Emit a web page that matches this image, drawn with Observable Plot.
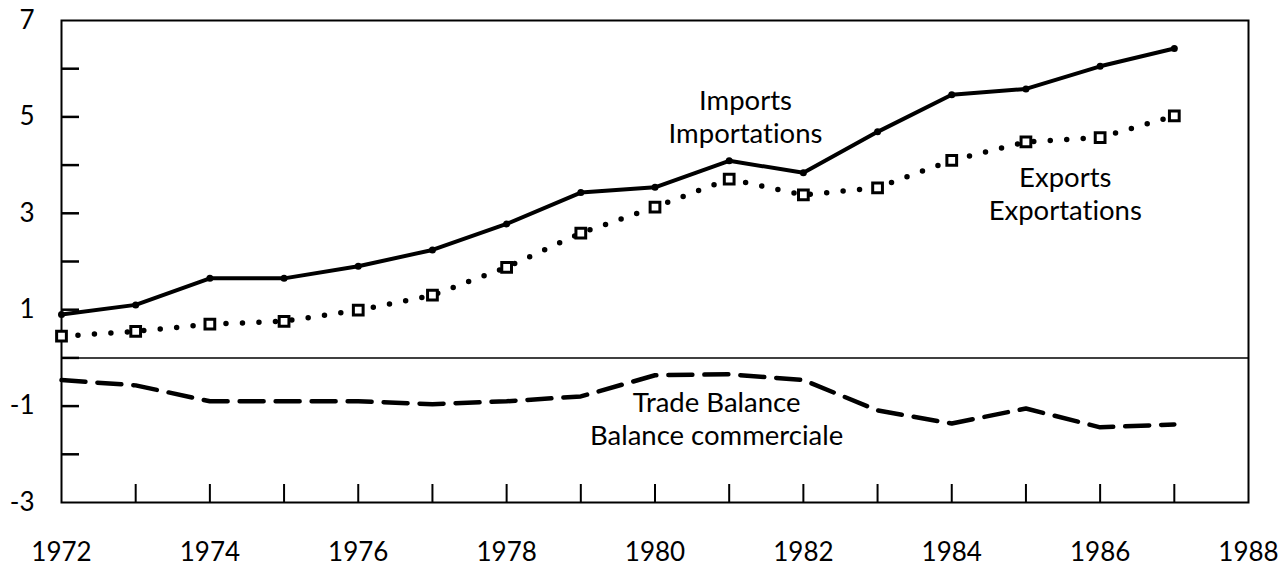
<!DOCTYPE html>
<html>
<head>
<meta charset="utf-8">
<script src="https://cdn.jsdelivr.net/npm/d3@7"></script>
<script src="https://cdn.jsdelivr.net/npm/@observablehq/plot@0.6"></script>
<style>
  html, body { margin: 0; padding: 0; background: #fff; }
  svg text { font-variant-ligatures: none; font-feature-settings: "liga" 0, "clig" 0; }
</style>
</head>
<body>
<div id="chart"></div>
<script>
const years   = [1972,1973,1974,1975,1976,1977,1978,1979,1980,1981,1982,1983,1984,1985,1986,1987];
const imports = [0.90,1.10,1.65,1.65,1.90,2.24,2.78,3.43,3.54,4.09,3.84,4.69,5.46,5.58,6.05,6.42];
const exports = [0.45,0.55,0.70,0.76,0.99,1.30,1.88,2.59,3.13,3.71,3.38,3.53,4.10,4.48,4.57,5.02];
const balance = [-0.46,-0.57,-0.90,-0.90,-0.90,-0.96,-0.90,-0.80,-0.36,-0.34,-0.46,-1.09,-1.36,-1.05,-1.44,-1.38];

const yLabelTicks = [-3,-1,1,3,5,7];
const yMarkTicks  = [-2,-1,0,1,2,3,4,5,6];
const xLabelTicks = [1972,1974,1976,1978,1980,1982,1984,1986,1988];
const xMarkTicks  = [1973,1974,1975,1976,1977,1978,1979,1980,1981,1982,1983,1984,1985,1986,1987];

const labelTexts  = ["Imports\nImportations", "Exports\nExportations", "Trade Balance\nBalance commerciale"];
const labelYears  = [1981.22, 1985.53, 1980.83];
const labelValues = [5.02, 3.43, -1.25];

const rows = years.map((year, i) => ({year, imports: imports[i], exports: exports[i], balance: balance[i]}));
const labels = labelTexts.map((text, i) => ({text, year: labelYears[i], value: labelValues[i]}));

const chart = Plot.plot({
  width: 1287,
  height: 567,
  marginLeft: 61,
  marginRight: 39,
  marginTop: 20,
  marginBottom: 65,
  style: {fontFamily: "Lato, sans-serif", fontSize: "26px", color: "#000", background: "#fff"},
  x: {domain: [1972, 1988]},
  y: {domain: [-3, 7]},
  marks: [
    Plot.frame({stroke: "#000", strokeWidth: 2}),
    Plot.ruleY([0], {stroke: "#000", strokeWidth: 1.5}),
    Plot.axisY({ticks: yMarkTicks, tickSize: -18, strokeWidth: 2.5, text: null, label: null}),
    Plot.axisY({ticks: yLabelTicks, tickSize: 0, tickPadding: 27, tickFormat: d => String(d), fontSize: 26, label: null}),
    Plot.axisX({ticks: xMarkTicks, tickSize: -18, strokeWidth: 2, text: null, label: null}),
    Plot.axisX({ticks: xLabelTicks, tickSize: 0, tickPadding: 40, tickFormat: d => String(d), fontSize: 26, label: null}),
    Plot.line(rows, {x: "year", y: "imports", stroke: "#000", strokeWidth: 4, curve: "linear"}),
    Plot.dot(rows, {x: "year", y: "imports", r: 3.5, fill: "#000"}),
    Plot.line(rows, {x: "year", y: "exports", stroke: "#000", strokeWidth: 5.5, strokeDasharray: "0 16.5", strokeLinecap: "round"}),
    Plot.dot(rows, {x: "year", y: "exports", symbol: "square", r: 5.5, fill: "#fff", stroke: "#000", strokeWidth: 3}),
    Plot.line(rows, {x: "year", y: "balance", stroke: "#000", strokeWidth: 4.5, strokeDasharray: "24 12"}),
    Plot.text(labels, {x: "year", y: "value", text: "text", lineAnchor: "middle", textAnchor: "middle", lineHeight: 1.2, fontSize: 27.5, fill: "#000"})
  ]
});
document.getElementById("chart").appendChild(chart);
</script>
</body>
</html>
